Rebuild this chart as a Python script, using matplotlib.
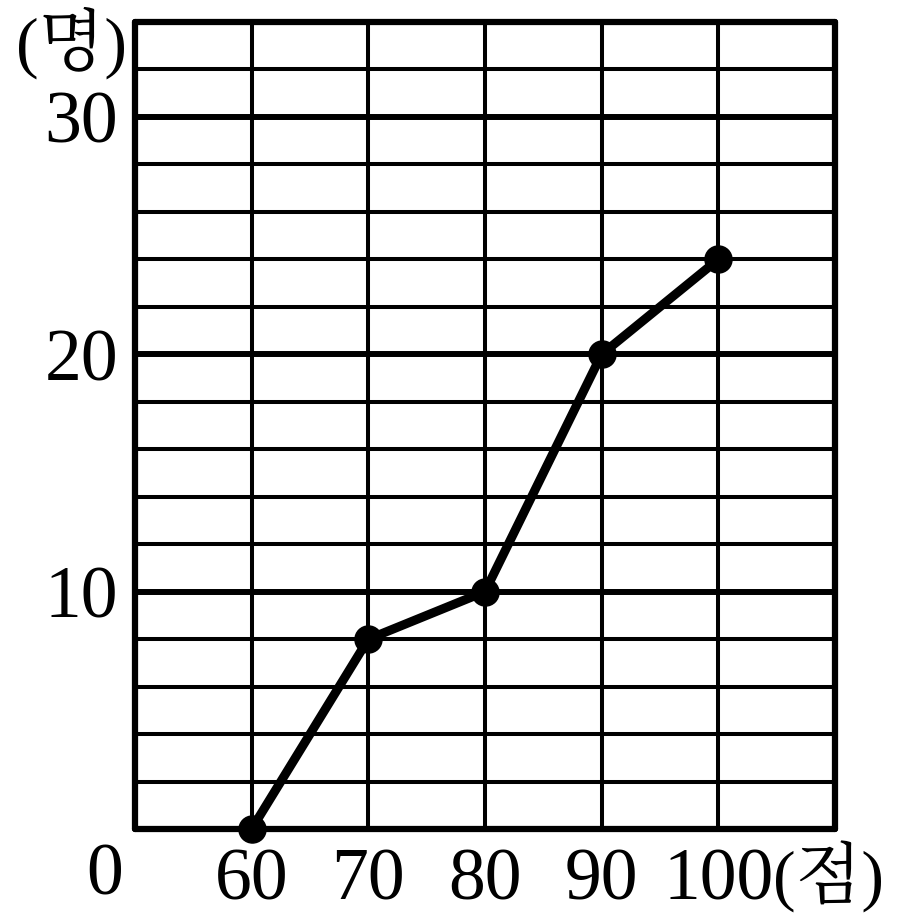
import matplotlib.pyplot as plt
from matplotlib.ticker import MultipleLocator

# data
scores = [60, 70, 80, 90, 100]
counts = [0, 8, 10, 20, 24]
y_ticks = [10, 20, 30]
x_labels = ['60', '70', '80', '90', '100']

fam = ['Liberation Serif', 'Noto Serif CJK KR', 'Noto Sans CJK KR', 'DejaVu Sans']
fs = 53

fig = plt.figure(figsize=(9.02, 9.24), dpi=100)
ax = fig.add_axes([135 / 902, (924 - 829) / 924, 700 / 902, 807 / 924])

ax.set_xlim(50, 110)
ax.set_ylim(0, 34)

# grid: thin every 2, thicker at 10/20/30, vertical every 10
ax.yaxis.set_minor_locator(MultipleLocator(2))
ax.set_yticks(y_ticks)
ax.set_xticks(scores)
ax.xaxis.set_minor_locator(MultipleLocator(10))
ax.grid(which='minor', color='black', linewidth=2.9)
ax.grid(which='major', axis='y', color='black', linewidth=4.3)
ax.grid(which='major', axis='x', color='black', linewidth=2.9)
ax.set_axisbelow(True)

for s in ax.spines.values():
    s.set_linewidth(4.5)
    s.set_capstyle('round')

ax.plot(scores, counts, color='black', linewidth=6.5, marker='o',
        markersize=19.5, solid_joinstyle='round', clip_on=False, zorder=5)

ax.tick_params(which='both', length=0)
ax.tick_params(axis='y', pad=12)
ax.tick_params(axis='x', pad=14)
ax.set_yticklabels([str(v) for v in y_ticks], fontsize=fs, family=fam)
ax.set_xticklabels(x_labels, fontsize=fs, family=fam)

# origin label and unit labels
ax.annotate('0', xy=(0, 0), xycoords='axes fraction', xytext=(-30, -14),
            textcoords='offset pixels', ha='center', va='top', fontsize=fs, family=fam)
ax.annotate('(점)', xy=(100, 0), xycoords='data', xytext=(55, -12),
            textcoords='offset pixels', ha='left', va='top', fontsize=49, family=fam)
ax.annotate('(명)', xy=(0, 1), xycoords='axes fraction', xytext=(-8, 16),
            textcoords='offset pixels', ha='right', va='top', fontsize=49, family=fam)

fig.savefig('out.png', dpi=100)
